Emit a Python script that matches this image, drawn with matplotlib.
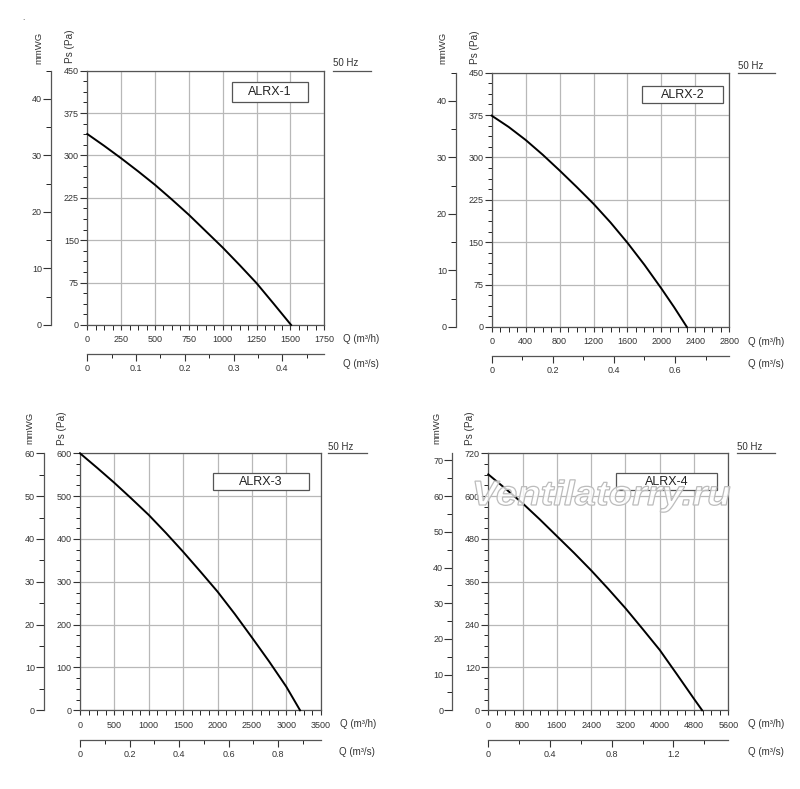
import matplotlib
matplotlib.use("Agg")
import matplotlib.pyplot as plt
from matplotlib.ticker import MultipleLocator, AutoMinorLocator, FuncFormatter
from matplotlib.patches import Rectangle, PathPatch
from matplotlib.lines import Line2D
from matplotlib.textpath import TextPath
from matplotlib.font_manager import FontProperties
from matplotlib.transforms import Affine2D

plt.rcParams['font.family'] = ['Liberation Sans', 'DejaVu Sans']

W, H = 800, 789

# --- data: Q in m3/h, Ps in Pa ---
models = ["ALRX-1", "ALRX-2", "ALRX-3", "ALRX-4"]

alrx1_q = [0, 125, 250, 375, 500, 625, 750, 875, 1000, 1125, 1250, 1375, 1505]
alrx1_ps = [338, 317, 295, 272, 248, 222, 195, 166, 137, 106, 74, 38, 0]

alrx2_q = [0, 200, 400, 600, 800, 1000, 1200, 1400, 1600, 1800, 2000, 2150, 2300]
alrx2_ps = [374, 354, 331, 305, 277, 248, 218, 185, 149, 110, 68, 35, 0]

alrx3_q = [0, 250, 500, 750, 1000, 1250, 1500, 1750, 2000, 2250, 2500, 2750, 3000, 3200]
alrx3_ps = [600, 566, 531, 494, 456, 414, 370, 324, 277, 225, 170, 114, 55, 0]

alrx4_q = [0, 400, 800, 1200, 1600, 2000, 2400, 2800, 3200, 3600, 4000, 4400, 4800, 4990]
alrx4_ps = [661, 621, 580, 535, 488, 441, 392, 340, 286, 228, 169, 101, 32, 0]

curves_q = [alrx1_q, alrx2_q, alrx3_q, alrx4_q]
curves_ps = [alrx1_ps, alrx2_ps, alrx3_ps, alrx4_ps]

# axis ranges
q_max = [1750, 2800, 3500, 5600]
q_step = [250, 400, 500, 800]
ps_max = [450, 450, 600, 720]
ps_step = [75, 75, 100, 120]
m3s_step = [0.1, 0.2, 0.2, 0.4]

# --- layout in pixels ---
# plot box (left, right, top, bottom)
boxes = [(87.3, 324.3, 70.7, 325.0), (491.7, 729.3, 72.7, 327.0),
         (80.0, 320.7, 453.3, 710.3), (488.3, 728.3, 453.3, 710.3)]
mmwg_x = [51.0, 456.0, 44.0, 452.3]
m3s_y = [354.3, 356.0, 740.0, 740.0]
ps_lbl = [(70, 46), (475, 47), (61.7, 428), (470, 428)]
mm_lbl = [(39, 47.5), (442.7, 47.5), (30, 428), (436.7, 428)]
hz_pos = [(333, 371, 63, 70.7), (738.3, 775, 65.7, 72.7),
          (328.3, 366.7, 446.7, 453.3), (737.3, 775, 446.7, 453.3)]
qh_pos = [(343, 339), (748, 341.7), (340, 724), (748, 724)]
qs_pos = [(343, 364.3), (748, 364.3), (339, 751.7), (748, 751.7)]
name_box = [(232, 308, 82, 102), (641.7, 723.3, 85.7, 103.3),
            (212.7, 308.7, 473.3, 490), (616, 716.7, 473.3, 490)]

fig = plt.figure(figsize=(W / 100, H / 100), dpi=100)
fig.patch.set_facecolor("white")

dark = "#333333"
spine_c = "#555555"


def fx(x):
    return x / W


def fy(y):
    return 1 - y / H


zero_fmt = FuncFormatter(lambda v, _: "0" if abs(v) < 1e-9 else f"{v:g}")

for i in range(4):
    l, r, t, b = boxes[i]
    ax = fig.add_axes([fx(l), fy(b), (r - l) / W, (b - t) / H])
    ax.set_xlim(0, q_max[i])
    ax.set_ylim(0, ps_max[i])
    ax.xaxis.set_major_locator(MultipleLocator(q_step[i]))
    ax.xaxis.set_minor_locator(AutoMinorLocator(4))
    ax.yaxis.set_major_locator(MultipleLocator(ps_step[i]))
    ax.yaxis.set_minor_locator(AutoMinorLocator(4))
    ax.xaxis.set_major_formatter(zero_fmt)
    ax.grid(which="major", color="#b8b8b8", lw=0.9)
    ax.set_axisbelow(True)
    for s in ax.spines.values():
        s.set_color(spine_c)
        s.set_linewidth(0.9)
    ax.tick_params(colors=dark, labelsize=6.5, width=0.8)
    ax.tick_params(axis="x", which="both", length=3.5, pad=4)
    ax.tick_params(axis="y", which="major", length=5, pad=1)
    ax.tick_params(axis="y", which="minor", length=3)

    ax.plot(curves_q[i], curves_ps[i], color="black", lw=1.4,
            solid_joinstyle="round", clip_on=False, zorder=3)

    # mmWG scale (1 mmWG taken as 10 Pa)
    loc = (mmwg_x[i] - l) / (r - l)
    sy = ax.secondary_yaxis(loc, functions=(lambda p: p / 10, lambda m: m * 10))
    sy.yaxis.set_major_locator(MultipleLocator(10))
    sy.yaxis.set_minor_locator(MultipleLocator(5))
    sy.tick_params(colors=dark, labelsize=6.5, width=0.8)
    sy.tick_params(which="major", length=5.5, pad=1)
    sy.tick_params(which="minor", length=3.5)
    sy.spines["left"].set_color(spine_c)
    sy.spines["left"].set_linewidth(0.9)

    # m3/s scale
    loc = -(m3s_y[i] - b) / (b - t)
    sx = ax.secondary_xaxis(loc, functions=(lambda q: q / 3600, lambda v: v * 3600))
    sx.xaxis.set_major_locator(MultipleLocator(m3s_step[i]))
    sx.xaxis.set_minor_locator(MultipleLocator(m3s_step[i] / 2))
    sx.xaxis.set_major_formatter(zero_fmt)
    sx.tick_params(colors=dark, labelsize=6.5, width=0.8)
    sx.tick_params(which="major", length=5, pad=2)
    sx.tick_params(which="minor", length=3)
    sx.spines["bottom"].set_color(spine_c)
    sx.spines["bottom"].set_linewidth(0.9)

    # labels
    fig.text(fx(ps_lbl[i][0]), fy(ps_lbl[i][1]), "Ps (Pa)", rotation=90,
             ha="center", va="center", fontsize=7.2, color=dark)
    fig.text(fx(mm_lbl[i][0]), fy(mm_lbl[i][1]), "mmWG", rotation=90,
             ha="center", va="center", fontsize=6.8, color=dark)
    fig.text(fx(qh_pos[i][0]), fy(qh_pos[i][1]), "Q (m³/h)",
             ha="left", va="center", fontsize=7, color=dark)
    fig.text(fx(qs_pos[i][0]), fy(qs_pos[i][1]), "Q (m³/s)",
             ha="left", va="center", fontsize=7, color=dark)

    x1, x2, ty, ly = hz_pos[i]
    fig.text(fx(x1), fy(ty), "50 Hz", ha="left", va="center", fontsize=7, color=dark)
    fig.add_artist(Line2D([fx(x1), fx(x2)], [fy(ly), fy(ly)],
                          transform=fig.transFigure, color=spine_c, lw=0.9))

    bx0, bx1, by0, by1 = name_box[i]
    fig.add_artist(Rectangle((fx(bx0), fy(by1)), (bx1 - bx0) / W, (by1 - by0) / H,
                             transform=fig.transFigure, facecolor="white",
                             edgecolor="#555555", lw=0.9, zorder=4))
    fig.text(fx((bx0 + bx1) / 2), fy((by0 + by1) / 2), models[i],
             ha="center", va="center", fontsize=9, color="#222222", zorder=5)

# watermark over the last panel
fp = FontProperties(family="Liberation Sans", style="italic", weight="bold")
tp = TextPath((0, 0), "Ventilatorry.ru", size=1, prop=fp)
bb = tp.get_extents()
sxw = 255 / bb.width
syw = 25 / 0.72
tr = (Affine2D().translate(-bb.x0, 0).scale(sxw, syw).translate(475, H - 505)
      + Affine2D().scale(1 / W, 1 / H) + fig.transFigure)
fig.add_artist(PathPatch(tp, transform=tr, facecolor=(1, 1, 1, 0.75),
                         edgecolor="#bcbcbc", lw=0.9, zorder=6))

fig.text(fx(22), fy(20), ".", fontsize=6, color=dark)

fig.savefig("out.png", dpi=100, facecolor="white")
